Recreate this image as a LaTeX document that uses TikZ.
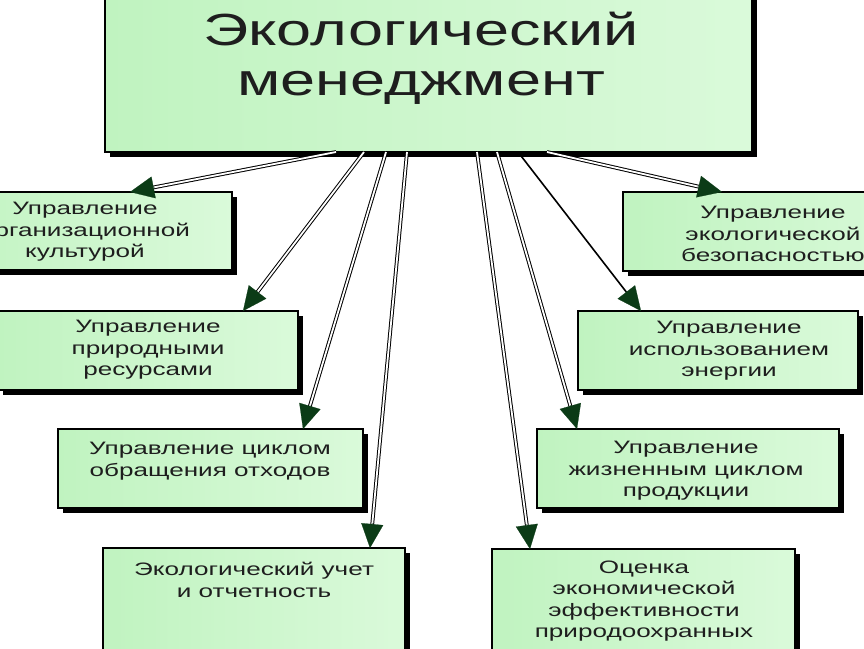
\documentclass[tikz,border=0pt]{standalone}
\usepackage{fontspec}
\setmainfont{Liberation Sans}
\newfontfamily\titlefont[FakeStretch=1.4]{Liberation Sans}
\newfontfamily\boxfont[FakeStretch=1.45]{Liberation Sans}
\usetikzlibrary{arrows.meta,shadows,calc}
\definecolor{boxA}{HTML}{C0F3C0}
\definecolor{boxB}{HTML}{DAFADA}
\definecolor{tipgreen}{HTML}{0B3B16}
\definecolor{txt}{HTML}{1E1E1E}
\begin{document}
\begin{tikzpicture}[x=1pt,y=-1pt,
  box/.style={draw=black, line width=1.3pt, left color=boxA, right color=boxB,
    drop shadow={shadow xshift=5pt, shadow yshift=-5pt, fill=black, opacity=1},
    inner sep=0pt, outer sep=0pt, anchor=north west},
  boxtext/.style={text=txt, align=center, inner sep=0pt,
    font=\boxfont\fontsize{18}{21.5}\selectfont},
  titletext/.style={text=txt, align=center, inner sep=0pt,
    font=\titlefont\fontsize{45}{50}\selectfont},
  dbl/.style={draw=black, line width=1pt, double=white, double distance=1.8pt, shorten >=22pt},
  sgl/.style={draw=black, line width=1.6pt, shorten >=22pt},
  tiparrow/.style={draw=tipgreen, fill=tipgreen, line width=0.2pt,
    -{Triangle[length=24pt, width=22pt]}}
]
\useasboundingbox (0,0) rectangle (864,648);
\fill[white] (0,0) rectangle (864,648);
\begin{scope}
\clip (0,0) rectangle (864,648);

% boxes
\node[box, minimum width=647pt, minimum height=172pt] (top) at (105,-20) {};
\node[box, minimum width=302pt, minimum height=78pt] (b1) at (-70,192) {};
\node[box, minimum width=300pt, minimum height=79pt] (b2) at (-2,311) {};
\node[box, minimum width=305pt, minimum height=79pt] (b3) at (58,429) {};
\node[box, minimum width=302pt, minimum height=130pt] (b4) at (103,548) {};
\node[box, minimum width=302pt, minimum height=79pt] (b5) at (623,192) {};
\node[box, minimum width=280pt, minimum height=79pt] (b6) at (578,311) {};
\node[box, minimum width=302pt, minimum height=79pt] (b7) at (537,429) {};
\node[box, minimum width=303pt, minimum height=130pt] (b8) at (492,549) {};

% texts
\node[titletext] (ttop) at (421,58) {Экологический\\менеджмент};
\node[boxtext] (t1txt) at (85,232) {Управление\\организационной\\культурой};
\node[boxtext] (t2txt) at (148,350) {Управление\\природными\\ресурсами};
\node[boxtext] (t3txt) at (210,461) {Управление циклом\\обращения отходов};
\node[boxtext] (t4txt) at (254,580) {Экологический учет\\и отчетность};
\node[boxtext] (t5txt) at (773,234) {Управление\\экологической\\безопасностью};
\node[boxtext] (t6txt) at (729,351) {Управление\\использованием\\энергии};
\node[boxtext] (t7txt) at (686,471) {Управление\\жизненным циклом\\продукции};
\node[boxtext] (t8txt) at (644,601) {Оценка\\экономической\\эффективности\\природоохранных};

% connector end points
\coordinate (s1) at ($(top.south west)+(231,0)$);
\coordinate (s2) at ($(top.south west)+(259,0)$);
\coordinate (s3) at ($(top.south west)+(281,0)$);
\coordinate (s4) at ($(top.south west)+(302,0)$);
\coordinate (s5) at ($(top.south west)+(372,0)$);
\coordinate (s6) at ($(top.south west)+(392,0)$);
\coordinate (s7) at ($(top.south west)+(413,0)$);
\coordinate (s8) at ($(top.south west)+(442,0)$);
\coordinate (e1) at ($(b1.north west)+(200,0)$);
\coordinate (e2) at ($(b2.north west)+(245,0)$);
\coordinate (e3) at ($(b3.north west)+(245,0)$);
\coordinate (e4) at ($(b4.north west)+(267,0)$);
\coordinate (e5) at ($(b5.north west)+(99,0)$);
\coordinate (e6) at ($(b6.north west)+(63,0)$);
\coordinate (e7) at ($(b7.north west)+(40,0)$);
\coordinate (e8) at ($(b8.north west)+(38,0)$);

% connectors
\draw[dbl] (s1) -- (e1);
\draw[dbl] (s2) -- (e2);
\draw[dbl] (s3) -- (e3);
\draw[dbl] (s4) -- (e4);
\draw[dbl] (s5) -- (e8);
\draw[dbl] (s6) -- (e7);
\draw[sgl] (s7) -- (e6);
\draw[dbl] (s8) -- (e5);
\draw[tiparrow] ($(e1)!25pt!(s1)$) -- (e1);
\draw[tiparrow] ($(e2)!25pt!(s2)$) -- (e2);
\draw[tiparrow] ($(e3)!25pt!(s3)$) -- (e3);
\draw[tiparrow] ($(e4)!25pt!(s4)$) -- (e4);
\draw[tiparrow] ($(e8)!25pt!(s5)$) -- (e8);
\draw[tiparrow] ($(e7)!25pt!(s6)$) -- (e7);
\draw[tiparrow] ($(e6)!25pt!(s7)$) -- (e6);
\draw[tiparrow] ($(e5)!25pt!(s8)$) -- (e5);
\end{scope}
\end{tikzpicture}
\end{document}
